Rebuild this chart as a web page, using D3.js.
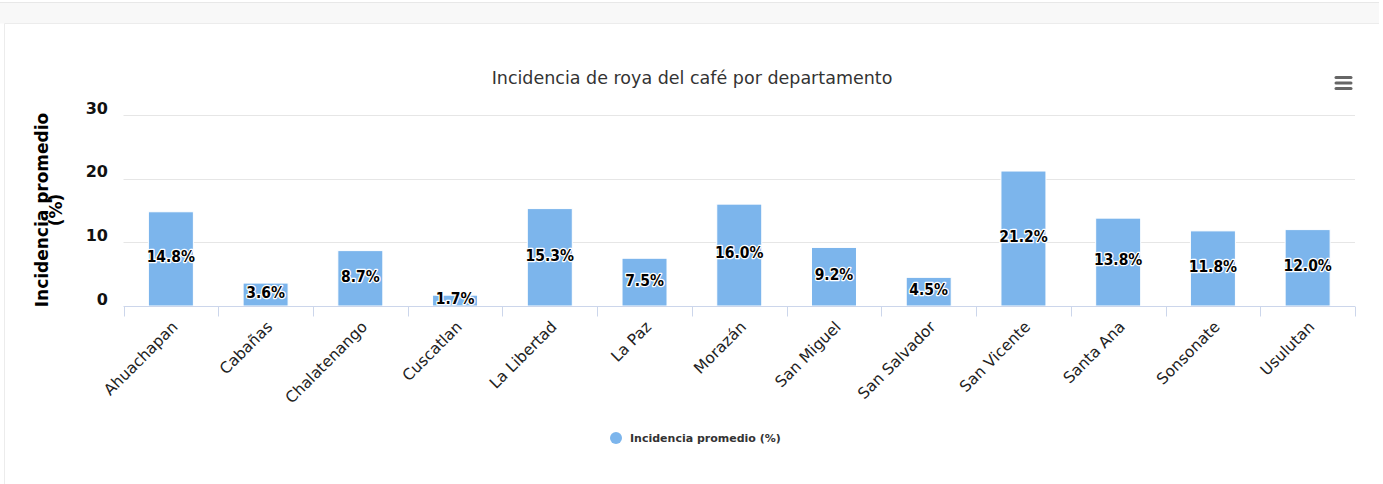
<!DOCTYPE html>
<html>
<head>
<meta charset="utf-8">
<script src="https://cdn.jsdelivr.net/npm/d3@7"></script>
<style>
  html, body { margin: 0; padding: 0; background: #ffffff; }
  svg { display: block; }
</style>
</head>
<body>
<svg id="chart" width="1383" height="484"></svg>
<script>
const categories = ["Ahuachapan", "Cabañas", "Chalatenango", "Cuscatlan", "La Libertad", "La Paz", "Morazán", "San Miguel", "San Salvador", "San Vicente", "Santa Ana", "Sonsonate", "Usulutan"];
const values = [14.8, 3.6, 8.7, 1.7, 15.3, 7.5, 16.0, 9.2, 4.5, 21.2, 13.8, 11.8, 12.0];
const yTicks = [0, 10, 20, 30];
const titleText = "Incidencia de roya del café por departamento";
const seriesName = "Incidencia promedio (%)";
const yTitleLines = ["Incidencia promedio", "(%)"];

const svg = d3.select("#chart");
const font = "'DejaVu Sans', Verdana, sans-serif";
const fontCond = "'DejaVu Sans Condensed', 'DejaVu Sans', sans-serif";

// page background / card frames
svg.append("rect").attr("x", 0).attr("y", 0).attr("width", 1383).attr("height", 484).attr("fill", "#ffffff");
svg.append("rect").attr("x", 0).attr("y", 2.5).attr("width", 1379).attr("height", 21).attr("fill", "#f8f8f8");
svg.append("line").attr("x1", 0).attr("x2", 1379).attr("y1", 2.5).attr("y2", 2.5).attr("stroke", "#e8e8e8");
svg.append("line").attr("x1", 4.5).attr("x2", 1379).attr("y1", 23.5).attr("y2", 23.5).attr("stroke", "#ececec");
svg.append("line").attr("x1", 4.5).attr("x2", 4.5).attr("y1", 23.5).attr("y2", 484).attr("stroke", "#ececec");

const plot = { left: 123.5, right: 1355, top: 115, bottom: 306 };

const x = d3.scaleBand().domain(categories).range([plot.left, plot.right]).padding(0);
const y = d3.scaleLinear().domain([0, 30]).range([plot.bottom, plot.top]);

// grid lines
svg.append("g").selectAll("line").data(yTicks.filter(d => d > 0)).join("line")
  .attr("x1", plot.left).attr("x2", plot.right)
  .attr("y1", d => Math.round(y(d)) + 0.5).attr("y2", d => Math.round(y(d)) + 0.5)
  .attr("stroke", "#e6e6e6").attr("stroke-width", 1);

// y labels
svg.append("g").selectAll("text").data(yTicks).join("text")
  .attr("x", 108).attr("y", d => y(d) - 1.5)
  .attr("text-anchor", "end")
  .attr("font-family", font).attr("font-size", 16).attr("font-weight", "bold")
  .attr("fill", "#111")
  .text(d => d);

// y axis title
const yt = svg.append("text")
  .attr("transform", "translate(48,210) rotate(-90)")
  .attr("text-anchor", "middle")
  .attr("font-family", font).attr("font-size", 17).attr("font-weight", "bold")
  .attr("fill", "#000");
yt.selectAll("tspan").data(yTitleLines).join("tspan")
  .attr("x", 0).attr("dy", (d, i) => i === 0 ? 0 : 14)
  .text(d => d);

// bars
const barW = 45;
svg.append("g").selectAll("rect").data(values).join("rect")
  .attr("x", (d, i) => x(categories[i]) + x.bandwidth() / 2 - barW / 2)
  .attr("y", d => y(d))
  .attr("width", barW)
  .attr("height", d => y(0) - y(d))
  .attr("fill", "#7cb5ec")
  .attr("stroke", "#ffffff").attr("stroke-width", 1);

// x axis
const xAxis = d3.axisBottom(x).tickSize(10).tickFormat("");
const gx = svg.append("g").attr("transform", `translate(0,${plot.bottom + 0.5})`).call(xAxis);
gx.select(".domain").attr("stroke", "#ccd6eb").attr("d", `M${plot.left},0H${plot.right}`);
gx.selectAll(".tick").remove();
const edges = d3.range(categories.length + 1).map(i => plot.left + i * x.step());
gx.selectAll("line.edge").data(edges).join("line").attr("class", "edge")
  .attr("x1", d => Math.round(d) + 0.5).attr("x2", d => Math.round(d) + 0.5)
  .attr("y1", 0).attr("y2", 10).attr("stroke", "#ccd6eb");

// x labels
svg.append("g").selectAll("text").data(categories).join("text")
  .attr("transform", d => `translate(${x(d) + x.bandwidth() / 2 + 4},${plot.bottom + 18}) rotate(-45)`)
  .attr("text-anchor", "end")
  .attr("dy", "0.35em")
  .attr("font-family", font).attr("font-size", 15.5)
  .attr("fill", "#222")
  .text(d => d);

// data labels
svg.append("g").selectAll("text").data(values).join("text")
  .attr("x", (d, i) => x(categories[i]) + x.bandwidth() / 2)
  .attr("y", d => (y(d) + y(0)) / 2 - 2)
  .attr("dy", "0.35em")
  .attr("text-anchor", "middle")
  .attr("font-family", fontCond).attr("font-size", 15.5).attr("font-weight", "bold")
  .attr("fill", "#000")
  .attr("stroke", "#ffffff").attr("stroke-width", 2.5).attr("stroke-linejoin", "round")
  .attr("paint-order", "stroke")
  .text(d => d.toFixed(1) + "%");

// title
svg.append("text")
  .attr("x", 692).attr("y", 84)
  .attr("text-anchor", "middle")
  .attr("font-family", font).attr("font-size", 17.5)
  .attr("fill", "#333333")
  .text(titleText);

// menu icon
svg.append("g").selectAll("line").data([0, 1, 2]).join("line")
  .attr("x1", 1336).attr("x2", 1351)
  .attr("y1", d => 77.5 + d * 5.5).attr("y2", d => 77.5 + d * 5.5)
  .attr("stroke", "#666666").attr("stroke-width", 3).attr("stroke-linecap", "round");

// legend
const lg = svg.append("g").attr("transform", "translate(616,438)");
lg.append("circle").attr("r", 6).attr("fill", "#7cb5ec");
lg.append("text").attr("x", 14).attr("dy", "0.35em")
  .attr("font-family", font).attr("font-size", 11).attr("font-weight", "bold")
  .attr("fill", "#333333").text(seriesName);
</script>
</body>
</html>
